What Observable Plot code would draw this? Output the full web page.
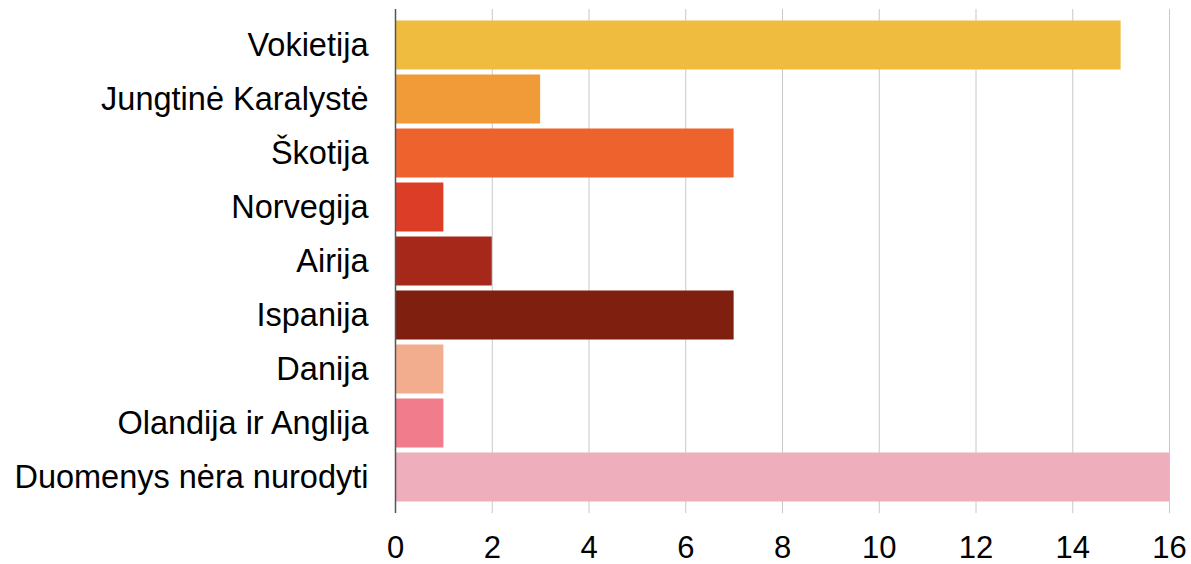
<!DOCTYPE html>
<html>
<head>
<meta charset="utf-8">
<script src="https://cdn.jsdelivr.net/npm/d3@7"></script>
<script src="https://cdn.jsdelivr.net/npm/@observablehq/plot@0.6"></script>
<style>
  html, body { margin: 0; padding: 0; background: #fff; }
  #chart svg { display: block; }
</style>
</head>
<body>
<div id="chart"></div>
<script>
const categories = ["Vokietija", "Jungtinė Karalystė", "Škotija", "Norvegija", "Airija", "Ispanija", "Danija", "Olandija ir Anglija", "Duomenys nėra nurodyti"];
const values = [15, 3, 7, 1, 2, 7, 1, 1, 16];
const colors = ["#EFBC40", "#F09A38", "#EE622D", "#DC3D26", "#A5281A", "#7E1F0F", "#F2AC8E", "#F07C8C", "#EEAEBB"];
const xTicks = [0, 2, 4, 6, 8, 10, 12, 14, 16];

const data = categories.map((c, i) => ({category: c, value: values[i], color: colors[i]}));

const chart = Plot.plot({
  width: 1191,
  height: 564,
  marginLeft: 395,
  marginRight: 22,
  marginTop: 9,
  marginBottom: 51,
  style: {fontFamily: "'Liberation Sans', Arial, Helvetica, sans-serif", fontSize: "30px", color: "#000", background: "#fff"},
  x: {domain: [0, 16], ticks: xTicks, label: null},
  y: {domain: categories, range: [17.5, 503.5], padding: 0, label: null},
  marks: [
    Plot.gridX(xTicks, {stroke: "#c8c8c8", strokeOpacity: 1, strokeWidth: 1}),
    Plot.barX(data, {y: "category", x: "value", fill: "color", insetTop: 2.5, insetBottom: 2.5}),
    Plot.ruleX([0], {stroke: "#555", strokeWidth: 1.5}),
    Plot.axisX(xTicks, {tickSize: 0, tickPadding: 22, label: null, fontSize: 31, fill: "#000"}),
    Plot.axisY({tickSize: 0, tickPadding: 27, label: null, fontSize: 32.5, fill: "#000"})
  ]
});
document.getElementById("chart").appendChild(chart);
</script>
</body>
</html>
